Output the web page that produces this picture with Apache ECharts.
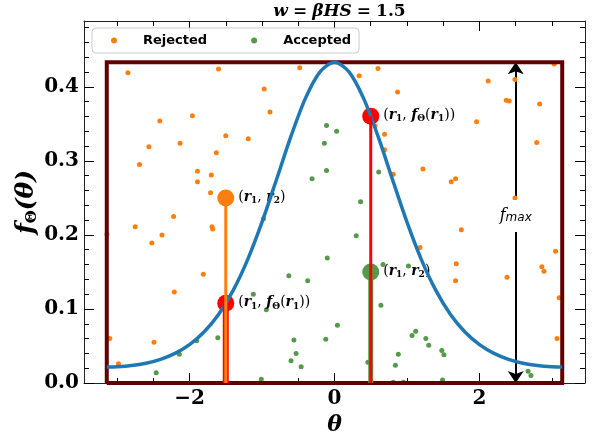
<!DOCTYPE html>
<html>
<head>
<meta charset="utf-8">
<script src="https://cdn.jsdelivr.net/npm/echarts@6/dist/echarts.min.js"></script>
<style>
  html, body { margin: 0; padding: 0; background: #fff; }
  #chart { width: 594px; height: 435px; }
</style>
</head>
<body>
<div id="chart"></div>
<script>
// density curve
const curveTheta = [-3.1416, -3.0, -2.8, -2.6, -2.4, -2.2, -2.0, -1.8, -1.6, -1.4, -1.2, -1.0, -0.8, -0.6, -0.4, -0.2, 0,
  0.2, 0.4, 0.6, 0.8, 1.0, 1.2, 1.4, 1.6, 1.8, 2.0, 2.2, 2.4, 2.6, 2.8, 3.0, 3.1416]
const curveDensity = [0.0216, 0.0219, 0.0235, 0.0267, 0.0320, 0.0400, 0.0518, 0.0688, 0.0925, 0.1247, 0.1664, 0.2174, 0.2749, 0.3334, 0.3848, 0.4204, 0.4332,
  0.4204, 0.3848, 0.3334, 0.2749, 0.2174, 0.1664, 0.1247, 0.0925, 0.0688, 0.0518, 0.0400, 0.0320, 0.0267, 0.0235, 0.0219, 0.0216]

// envelope box
const thetaMin = -3.1416
const thetaMax = 3.1416
const fMax = 0.4332
const fMaxArrowTheta = 2.5

// rejected / accepted samples [theta, r2]
const rejected = [
  [-2.85, 0.419], [-1.60, 0.424], [-2.41, 0.354], [-1.96, 0.361], [-1.50, 0.334], [-1.19, 0.330], [-2.56, 0.319],
  [-2.13, 0.324], [-1.63, 0.311], [-2.69, 0.295], [-1.89, 0.286], [-1.70, 0.281], [-1.89, 0.272], [-1.71, 0.257],
  [-2.22, 0.225], [-2.75, 0.211], [-1.69, 0.211], [-1.68, 0.208], [-3.14, 0.201], [-2.38, 0.200], [-2.52, 0.189],
  [-1.81, 0.147], [-2.21, 0.123], [-3.10, 0.060], [-2.49, 0.055], [-2.98, 0.026],
  [-0.48, 0.426], [0.60, 0.425], [0.34, 0.415], [-0.97, 0.397], [0.87, 0.393], [-0.89, 0.366], [0.56, 0.347],
  [0.69, 0.336], [0.69, 0.315], [0.81, 0.282],
  [3.03, 0.431], [2.12, 0.408], [2.49, 0.410], [2.37, 0.382], [2.41, 0.381], [2.83, 0.377], [1.96, 0.353],
  [2.79, 0.325], [1.22, 0.289], [1.61, 0.272], [1.67, 0.276], [2.49, 0.250],
  [1.75, 0.207], [1.18, 0.183], [1.68, 0.161], [1.67, 0.138], [2.38, 0.143], [3.05, 0.178], [2.86, 0.157],
  [2.89, 0.151], [3.10, 0.115], [3.07, 0.060]
]
const accepted = [
  [-1.12, 0.120], [-1.61, 0.061], [-1.90, 0.057], [-2.14, 0.039], [-2.46, 0.014],
  [-0.11, 0.348], [0.03, 0.340], [-0.14, 0.324], [-0.11, 0.287], [-0.31, 0.276], [0.61, 0.285], [0.36, 0.245],
  [-0.98, 0.222], [1.12, 0.070], [1.07, 0.064], [1.26, 0.060], [1.30, 0.051], [1.48, 0.044], [1.51, 0.038],
  [2.67, 0.016], [2.71, 0.010], [1.49, 0.004], [0.30, 0.199], [-0.10, 0.169], [-0.63, 0.145], [-0.37, 0.138],
  [1.02, 0.158], [-0.94, 0.099], [0.64, 0.105], [0.04, 0.078], [-0.56, 0.058], [-0.12, 0.059], [-0.53, 0.040],
  [-0.60, 0.030], [-0.46, 0.022], [-1.01, 0.005], [0.88, 0.039], [0.84, 0.024], [0.46, 0.028], [0.81, 0.001],
  [0.95, 0.001], [0.67, 0.160]
]

// the two highlighted samples
const sampleR1 = [-1.5, 0.5]
const sampleR2 = [0.25, 0.15]
const densityAtR1 = [0.1077, 0.3605]

// ticks
const xMajorTicks = [-2, 0, 2]
const xMinorTicks = [-3, -2.5, -1.5, -1, -0.5, 0.5, 1, 1.5, 2.5, 3]
const yMajorTicks = [0, 0.1, 0.2, 0.3, 0.4]
const yMinorTicks = [0.02, 0.04, 0.06, 0.08, 0.12, 0.14, 0.16, 0.18, 0.22, 0.24, 0.26, 0.28,
  0.32, 0.34, 0.36, 0.38, 0.42, 0.44, 0.46, 0.48]

const ORANGE = '#ff7f0e'
const GREEN = '#55994a'
const BLUE = '#1f77b4'
const RED = '#ff0000'
const BOX = '#620000'
const SERIF = 'DejaVu Serif'

const xRange = { min: -1.1 * Math.PI, max: 1.1 * Math.PI }
const yRange = { min: 0, max: 0.489 }

const mathRich = {
  p: { fontFamily: SERIF, fontSize: 14, color: '#000', lineHeight: 15, padding: [0, 0, 3, 0], verticalAlign: 'top' },
  i: { fontFamily: SERIF, fontSize: 14, fontStyle: 'italic', fontWeight: 'bold', color: '#000', lineHeight: 15, padding: [0, 0, 3, 0], verticalAlign: 'top' },
  s: { fontFamily: SERIF, fontSize: 9, fontWeight: 'bold', color: '#000', lineHeight: 10, verticalAlign: 'bottom' }
}
const labelPair = '{p|(}{i|r}{s|1}{p|, }{i|r}{s|2}{p|)}'
const labelCurve = '{p|(}{i|r}{s|1}{p|, }{i|f}{s|Θ}{p|(}{i|r}{s|1}{p|))}'

const xMajor = (pos, showLine, showLabel) => ({
  type: 'value', position: pos, ...xRange,
  axisLine: { show: showLine, onZero: false, lineStyle: { color: '#222', width: 1 } },
  axisTick: { show: true, inside: true, length: 10, customValues: xMajorTicks, lineStyle: { color: '#000' } },
  axisLabel: {
    show: showLabel, customValues: xMajorTicks, margin: 6,
    fontFamily: SERIF, fontWeight: 'bold', fontSize: 20, color: '#000',
    formatter: v => (v < 0 ? '\u2212' + Math.abs(v) : String(v))
  },
  splitLine: { show: false }
})
const xMinor = (pos) => ({
  type: 'value', position: pos, ...xRange,
  axisLine: { show: false, onZero: false },
  axisTick: { show: true, inside: true, length: 5, customValues: xMinorTicks, lineStyle: { color: '#000' } },
  axisLabel: { show: false },
  splitLine: { show: false }
})
const yMajor = (pos, showLine, showLabel) => ({
  type: 'value', position: pos, ...yRange,
  axisLine: { show: showLine, onZero: false, lineStyle: { color: '#222', width: 1 } },
  axisTick: { show: true, inside: true, length: 10, customValues: yMajorTicks, lineStyle: { color: '#000' } },
  axisLabel: {
    show: showLabel, customValues: yMajorTicks, margin: 5,
    fontFamily: SERIF, fontWeight: 'bold', fontSize: 20, color: '#000',
    formatter: v => v.toFixed(1)
  },
  splitLine: { show: false }
})
const yMinor = (pos) => ({
  type: 'value', position: pos, ...yRange,
  axisLine: { show: false, onZero: false },
  axisTick: { show: true, inside: true, length: 5, customValues: yMinorTicks, lineStyle: { color: '#000' } },
  axisLabel: { show: false },
  splitLine: { show: false }
})

const xMain = xMajor('bottom', true, true)
xMain.name = 'θ'
xMain.nameLocation = 'middle'
xMain.nameGap = 28
xMain.nameTextStyle = { fontFamily: SERIF, fontStyle: 'italic', fontWeight: 'bold', fontSize: 22, color: '#000' }

const yMain = yMajor('left', true, true)
yMain.name = '{i|f}{s|Θ}{i|(θ)}'
yMain.nameLocation = 'middle'
yMain.nameGap = 44
yMain.nameMoveOverlap = false
yMain.nameTextStyle = {
  rich: {
    i: { fontFamily: SERIF, fontStyle: 'italic', fontWeight: 'bold', fontSize: 25, color: '#000', lineHeight: 26, padding: [0, 0, 4, 0], verticalAlign: 'top' },
    s: { fontFamily: SERIF, fontWeight: 'bold', fontSize: 15, color: '#000', lineHeight: 16, verticalAlign: 'bottom' }
  }
}

const bigPoints = [
  { value: [sampleR1[0], sampleR2[0]], itemStyle: { color: ORANGE }, label: { formatter: labelPair } },
  { value: [sampleR1[0], densityAtR1[0]], itemStyle: { color: RED }, label: { formatter: labelCurve } },
  { value: [sampleR1[1], densityAtR1[1]], itemStyle: { color: RED }, label: { formatter: labelCurve } },
  { value: [sampleR1[1], sampleR2[1]], itemStyle: { color: GREEN }, label: { formatter: labelPair } }
]

const vline = (x, top, color, width) => ({
  type: 'line', data: [[x, 0], [x, top]], showSymbol: false, symbol: 'none',
  lineStyle: { color: color, width: width }, silent: true
})

const chart = echarts.init(document.getElementById('chart'), null, { renderer: 'canvas' })
chart.setOption({
  animation: false,
  backgroundColor: '#fff',
  title: {
    text: '{i|w} {n|=} {i|βHS} {n|=} {n|1.5}',
    left: 334.5, top: -2, textAlign: 'center',
    textStyle: {
      rich: {
        i: { fontFamily: SERIF, fontStyle: 'italic', fontWeight: 'bold', fontSize: 17, color: '#000' },
        n: { fontFamily: SERIF, fontWeight: 'bold', fontSize: 17, color: '#000' }
      }
    }
  },
  legend: {
    data: ['Rejected', 'Accepted'],
    left: 92, top: 28,
    padding: [6, 8, 6, 19],
    itemWidth: 6, itemHeight: 6, itemGap: 44,
    icon: 'circle',
    borderColor: '#cccccc', borderWidth: 1, borderRadius: 4,
    backgroundColor: 'rgba(255,255,255,0.85)',
    textStyle: { fontFamily: 'DejaVu Sans', fontWeight: 'bold', fontSize: 13, color: '#000', padding: [0, 0, 0, 21] }
  },
  grid: { left: 84, right: 9, top: 21, bottom: 52, containLabel: false, outerBoundsMode: 'none' },
  xAxis: [xMain, xMinor('bottom'), xMajor('top', true, false), xMinor('top')],
  yAxis: [yMain, yMinor('left'), yMajor('right', true, false), yMinor('right')],
  series: [
    {
      name: 'Rejected', type: 'scatter', data: rejected, symbolSize: 5,
      itemStyle: { color: ORANGE, opacity: 1 }
    },
    {
      name: 'Accepted', type: 'scatter', data: accepted, symbolSize: 5,
      itemStyle: { color: GREEN, opacity: 1 }
    },
    {
      type: 'line', symbol: 'none',
      data: [[thetaMin, 0], [thetaMin, fMax], [thetaMax, fMax], [thetaMax, 0], [thetaMin, 0]],
      lineStyle: { color: BOX, width: 4, join: 'miter' }
    },
    {
      type: 'line', symbol: 'none', smooth: 0.3,
      data: curveTheta.map((t, k) => [t, curveDensity[k]]),
      lineStyle: { color: BLUE, width: 3.5 }
    },
    vline(sampleR1[0], densityAtR1[0], RED, 6),
    vline(sampleR1[0], sampleR2[0], ORANGE, 3),
    vline(sampleR1[1], sampleR2[1], GREEN, 5),
    vline(sampleR1[1], densityAtR1[1], RED, 3),
    {
      type: 'scatter', data: bigPoints, symbolSize: 17,
      itemStyle: { opacity: 1 },
      label: { show: true, position: 'right', distance: 4, rich: mathRich }
    },
    {
      type: 'lines', coordinateSystem: 'cartesian2d',
      symbol: ['arrow', 'arrow'], symbolSize: 12,
      lineStyle: { color: '#000', width: 2, opacity: 1 },
      data: [{ coords: [[fMaxArrowTheta, 0], [fMaxArrowTheta, fMax]] }]
    },
    {
      type: 'scatter', symbolSize: 1, data: [[fMaxArrowTheta, 0.2256]],
      itemStyle: { color: '#fff', opacity: 1 },
      label: {
        show: true, position: 'inside',
        formatter: '{f|f}{m|max}',
        backgroundColor: '#fff', padding: [8, 3, 8, 3],
        rich: {
          f: { fontFamily: SERIF, fontStyle: 'italic', fontSize: 16, color: '#000', lineHeight: 16, padding: [0, 0, 3, 0], verticalAlign: 'top' },
          m: { fontFamily: 'DejaVu Sans', fontStyle: 'italic', fontSize: 12, color: '#000', lineHeight: 13, verticalAlign: 'bottom' }
        }
      }
    }
  ]
})
</script>
</body>
</html>
